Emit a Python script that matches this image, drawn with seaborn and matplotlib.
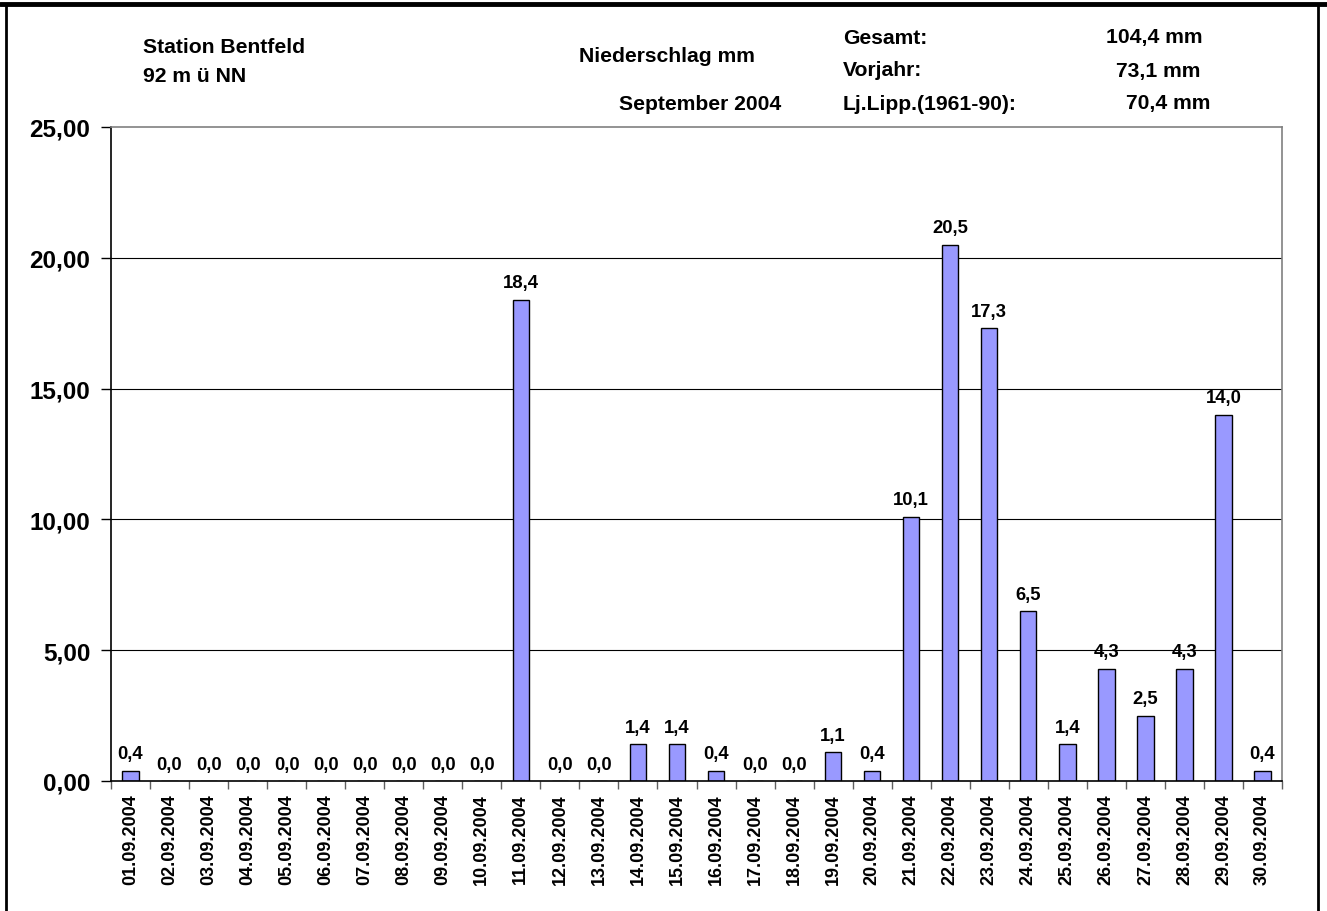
import matplotlib
matplotlib.use("Agg")
import matplotlib.pyplot as plt
import seaborn as sns
import pandas as pd
from matplotlib.lines import Line2D
from matplotlib.ticker import FixedLocator, FuncFormatter

dates = [f"{d:02d}.09.2004" for d in range(1, 31)]
values = [0.4, 0.0, 0.0, 0.0, 0.0, 0.0, 0.0, 0.0, 0.0, 0.0,
          18.4, 0.0, 0.0, 1.4, 1.4, 0.4, 0.0, 0.0, 1.1, 0.4,
          10.1, 20.5, 17.3, 6.5, 1.4, 4.3, 2.5, 4.3, 14.0, 0.4]
y_ticks = [0, 5, 10, 15, 20, 25]

sns.set_theme(style="white")
plt.rcParams['font.family'] = ['Liberation Sans', 'DejaVu Sans']
plt.rcParams['font.weight'] = 'bold'
plt.rcParams['text.color'] = 'black'
plt.rcParams['xtick.color'] = 'black'
plt.rcParams['ytick.color'] = 'black'

W, H = 1327, 912
fig = plt.figure(figsize=(W / 100, H / 100), dpi=100)
ax = fig.add_axes([111 / W, 1 - 782 / H, (1282 - 111) / W, (782 - 128) / H])

df = pd.DataFrame({"Datum": dates, "mm": values})
sns.barplot(data=df, x="Datum", y="mm", color="#9999FF", width=0.42,
            edgecolor="black", linewidth=1.0, saturation=1, ax=ax)

ax.set_xlim(-0.5, len(dates) - 0.5)
ax.set_ylim(0, 25)
ax.set_yticks(y_ticks)
ax.yaxis.set_major_formatter(FuncFormatter(lambda v, p: f"{v:.2f}".replace(".", ",")))
ax.set_xlabel("")
ax.set_ylabel("")
ax.grid(False)
for yv in y_ticks[1:-1]:
    ax.axhline(yv, color="black", linewidth=0.8, zorder=0)

for s in ["top", "right"]:
    ax.spines[s].set_color("#808080")
    ax.spines[s].set_linewidth(1.2)
for s in ["left", "bottom"]:
    ax.spines[s].set_color("black")
    ax.spines[s].set_linewidth(1.2)

ax.tick_params(axis="y", which="major", left=True, length=7, width=1, color="black",
               labelsize=17.5, pad=8, labelcolor="black")
for lab in ax.get_yticklabels():
    lab.set_fontweight("bold")
ax.tick_params(axis="x", which="major", bottom=False, length=0, labelsize=13,
               labelrotation=90, pad=9, labelcolor="black")
for lab in ax.get_xticklabels():
    lab.set_fontweight("bold")
ax.xaxis.set_minor_locator(FixedLocator([i - 0.5 for i in range(len(dates) + 1)]))
ax.tick_params(axis="x", which="minor", bottom=True, length=6, width=1, color="#606060")

for cont in ax.containers:
    ax.bar_label(cont, labels=[f"{v:.1f}".replace(".", ",") for v in values],
                 padding=6, fontsize=13.3, fontweight="bold", color="black")

tk = dict(fontsize=15.2, fontweight="bold", color="black", va="center")
fig.text(143 / W, 1 - 48 / H, "Station Bentfeld", ha="left", **tk)
fig.text(143 / W, 1 - 76 / H, "92 m ü NN", ha="left", **tk)
fig.text(667 / W, 1 - 56 / H, "Niederschlag mm", ha="center", **tk)
fig.text(700 / W, 1 - 104 / H, "September 2004", ha="center", **tk)
fig.text(843 / W, 1 - 38 / H, "Gesamt:", ha="left", **tk)
fig.text(843 / W, 1 - 71 / H, "Vorjahr:", ha="left", **tk)
fig.text(843 / W, 1 - 104 / H, "Lj.Lipp.(1961-90):", ha="left", **tk)
fig.text(1203 / W, 1 - 38 / H, "104,4 mm", ha="right", **tk)
fig.text(1200 / W, 1 - 71 / H, "73,1 mm", ha="right", **tk)
fig.text(1210 / W, 1 - 104 / H, "70,4 mm", ha="right", **tk)

# frame
fig.add_artist(Line2D([0, 1], [1 - 5 / H, 1 - 5 / H], transform=fig.transFigure,
                      color="black", linewidth=3.5))
fig.add_artist(Line2D([5.5 / W, 5.5 / W], [0, 1 - 5 / H], transform=fig.transFigure,
                      color="black", linewidth=2))
fig.add_artist(Line2D([1318 / W, 1318 / W], [0, 1 - 5 / H], transform=fig.transFigure,
                      color="black", linewidth=2))

fig.savefig("out.png", dpi=100, facecolor="white")
